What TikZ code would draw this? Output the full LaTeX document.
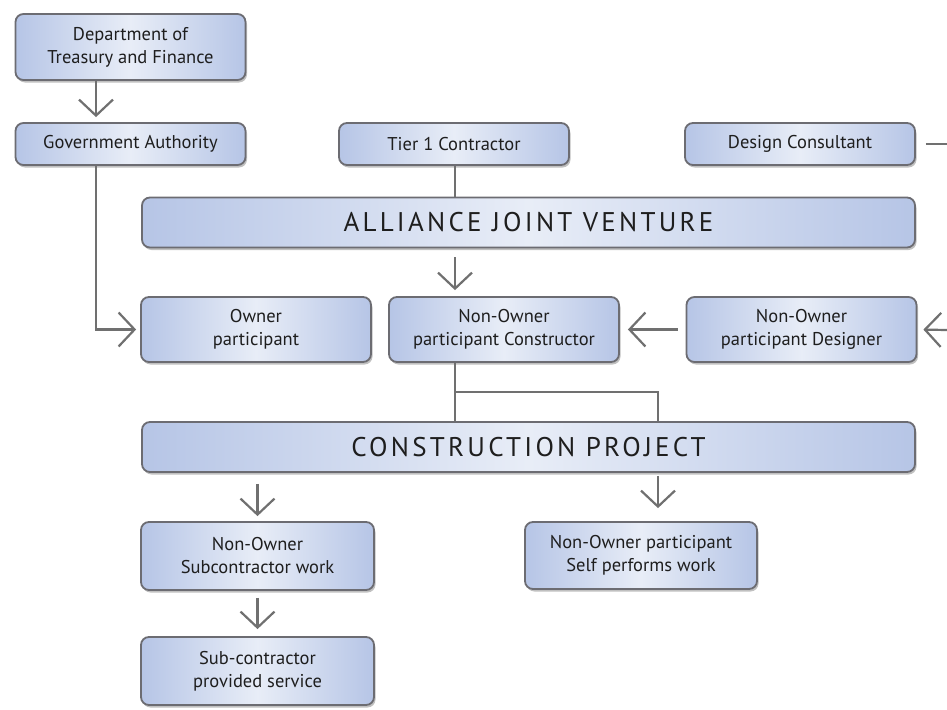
\documentclass[tikz,border=0pt]{standalone}
\usepackage{fontspec}
\setmainfont{PT Sans}
\usetikzlibrary{shadows,arrows.meta}
\definecolor{boxedge}{HTML}{6C6C72}
\definecolor{boxblue}{HTML}{B6C5E6}
\definecolor{boxlight}{HTML}{E8EDF7}
\definecolor{linegray}{HTML}{707070}
\definecolor{txt}{HTML}{1E1E1E}
\begin{document}
\begin{tikzpicture}[x=1pt,y=-1pt,
  box/.style={draw=boxedge, line width=1.8pt, rounded corners=8pt, inner sep=0pt,
    left color=boxblue, right color=boxblue, middle color=boxlight,
    drop shadow={shadow xshift=1.5pt, shadow yshift=-2.5pt, opacity=0.35, fill=black!70},
    align=center, text=txt, font=\fontsize{18.5}{23}\selectfont},
  small/.style={box, minimum width=230pt, minimum height=42pt},
  tall/.style={box, minimum width=230pt, minimum height=66pt},
  wide/.style={box, minimum width=773pt, minimum height=50pt,
    font=\fontsize{27}{30}\selectfont\addfontfeature{LetterSpace=12}},
  conn/.style={draw=linegray, line width=2.2pt},
  arr/.style={conn, -{Straight Barb[length=16pt,width=34pt,line width=2.2pt]}}]
\useasboundingbox[fill=white] (0,0) rectangle (947,709);
% boxes
\node[tall, minimum height=66pt] (dept) at (130.5,47) {Department of\\Treasury and Finance};
\node[small] (gov) at (130.5,144) {Government Authority};
\node[small] (tier) at (454,144) {Tier 1 Contractor};
\node[small] (design) at (800,144) {Design Consultant};
\node[wide] (ajv) at (528.5,222.5) {ALLIANCE JOINT VENTURE};
\node[tall, minimum height=65pt] (owner) at (256,329.5) {Owner\\participant};
\node[tall, minimum height=65pt] (noc) at (504,329.5) {Non-Owner\\participant Constructor};
\node[tall, minimum height=65pt] (nod) at (801.5,329.5) {Non-Owner\\participant Designer};
\node[wide] (cp) at (528.5,447) {CONSTRUCTION PROJECT};
\node[tall, minimum height=68pt, minimum width=233pt] (nosub) at (257.5,556) {Non-Owner\\Subcontractor work};
\node[tall, minimum height=67pt, minimum width=232pt] (noself) at (641,555.5) {Non-Owner participant\\Self performs work};
\node[tall, minimum height=68pt, minimum width=233pt] (subprov) at (257.5,671) {Sub-contractor\\provided service};
% helper coordinates
\coordinate (gx) at (96,0);
\coordinate (tx) at (455,0);
\coordinate (br) at (658,392);
\coordinate (dcR) at (947,144);
\coordinate (rE) at (947,330);
% connectors
\draw[arr, shorten >=5pt] (gx |- dept.south) -- (gx |- gov.north);
\draw[arr, shorten >=4pt] (gx |- gov.south) -- (gx |- owner.west) -- (owner.west);
\draw[conn] (tx |- tier.south) -- (tx |- ajv.north);
\draw[conn, shorten <=10pt] (design.east) -- (dcR);
\draw[arr, shorten <=9pt, shorten >=6pt] (tx |- ajv.south) -- (tx |- noc.north);
\draw[arr, shorten <=8pt, shorten >=8pt] (nod.west) -- (noc.east);
\draw[arr, shorten >=6pt] (rE) -- (nod.east);
\draw[conn] (tx |- noc.south) -- (tx |- cp.north);
\draw[conn] (tx |- br) -- (br) -- (br |- cp.north);
\draw[arr, shorten <=11pt, shorten >=5pt] (cp.south -| nosub.north) -- (nosub.north);
\draw[arr, shorten <=3pt, shorten >=13pt] (br |- cp.south) -- (br |- noself.north);
\draw[arr, shorten <=7pt, shorten >=7pt] (nosub.south) -- (subprov.north);
\end{tikzpicture}
\end{document}
